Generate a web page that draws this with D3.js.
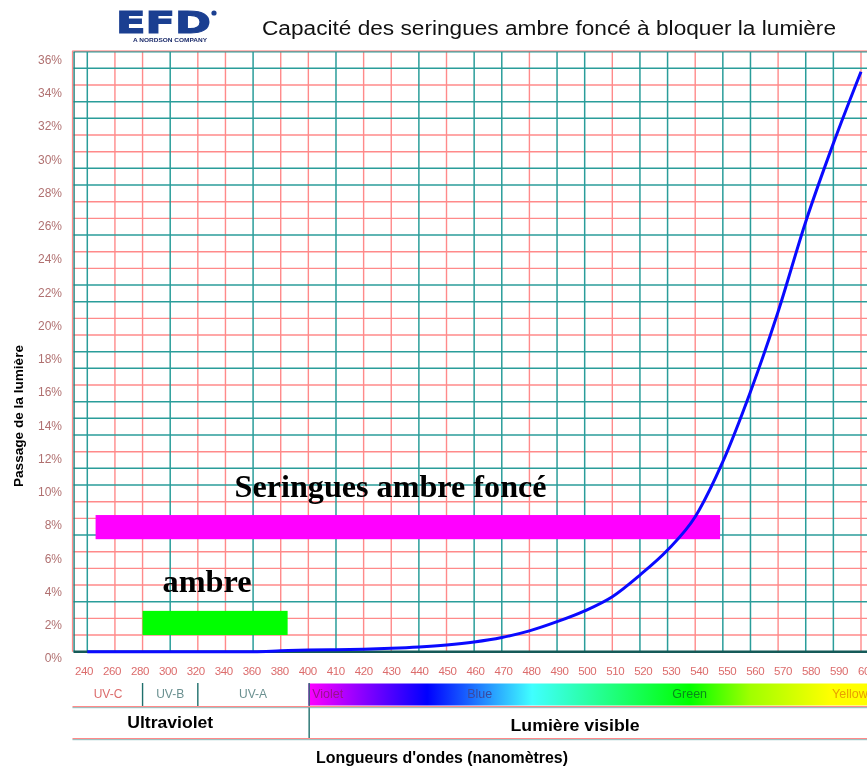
<!DOCTYPE html>
<html>
<head>
<meta charset="utf-8">
<script src="https://cdn.jsdelivr.net/npm/d3@7"></script>
<style>
  html, body { margin: 0; padding: 0; background: #ffffff; }
  svg { display: block; }
</style>
</head>
<body>
<svg id="chart" width="867" height="768"></svg>
<script>
// Wavelength categories (nm) along the bottom axis
const wavelengths = [240, 260, 280, 300, 320, 340, 360, 380,
  400, 410, 420, 430, 440, 450, 460, 470, 480, 490, 500, 510, 520,
  530, 540, 550, 560, 570, 580, 590, 600];
// Light passage (%) through dark amber syringes at each wavelength
const lightPassage = [0, 0, 0, 0, 0, 0, 0, 0.05,
  0.1, 0.12, 0.15, 0.2, 0.28, 0.4, 0.58, 0.85, 1.25, 1.8, 2.45, 3.3, 4.6,
  6.1, 8.1, 11.4, 15.6, 20.4, 25.8, 30.5, 34.8];
// Percentage tick labels
const yTicks = [0, 2, 4, 6, 8, 10, 12, 14, 16, 18, 20, 22, 24, 26, 28, 30, 32, 34, 36];
// Grid lines drawn in teal (the others are red)
const xTealGrid = [240, 300, 360, 410, 440, 460, 470, 490, 500, 520, 530, 550, 560, 580, 590];
const yTealGrid = [36, 35, 33, 32, 29, 28, 25, 22, 21, 18, 17, 15, 14, 13, 11, 10, 7, 3];
// Ultraviolet sub-bands
const uvBandNames = ["UV-C", "UV-B", "UV-A"];
const uvBandEdges = [230, 280, 320, 400];
// Visible spectrum colour stops
const spectrumNm = [400, 443, 481, 538, 560, 589, 605];
const spectrumColors = ["#ff00ff", "#0000ff", "#40ffff", "#00ff00", "#a0ff00", "#ffff00", "#ffff00"];
const spectrumNames = ["Violet", "Blue", "Green", "Yellow"];
const spectrumNameNm = [407, 462, 538, 596];
const spectrumNameColors = ["#9a108e", "#3a4aa0", "#0a8a1a", "#e8a000"];
// Highlight bars with their captions
const highlightLabels = ["Seringues ambre foncé", "ambre"];
const highlightFromNm = [246, 280];
const highlightToNm = [549, 385];
const highlightLow = [6.75, 1.0];
const highlightHigh = [8.2, 2.45];
const highlightColors = ["#ff00ff", "#00ff00"];

const svg = d3.select("#chart");

// Scales: grid positions are evenly spaced categories
const x = d3.scalePoint().domain(wavelengths).range([87.3, 861]);
// continuous wavelength -> px (two linear segments, 20 nm steps then 10 nm steps)
const xNm = d3.scaleLinear().domain([240, 400, 600]).range([x(240), x(400), x(600)]);
const y = d3.scaleLinear().domain([0, 36]).range([651.7, 51.7]);
// tick label positions
const xLabel = d3.scalePoint().domain(wavelengths).range([83.5, 866.5]);
const yLabel = d3.scaleLinear().domain([0, 36]).range([658, 59.5]);

const left = xNm(230), right = 867;
const teal = "#2a9d9a", red = "#ff8a8a";

// ---- grid ----
const grid = svg.append("g").style("mix-blend-mode", "multiply");
const yVals = d3.range(1, 37);
grid.append("g").selectAll("line").data(yVals.filter(v => !yTealGrid.includes(v))).join("line")
  .attr("x1", left).attr("x2", right).attr("y1", d => y(d)).attr("y2", d => y(d))
  .attr("stroke", red).attr("stroke-width", 1.4);
grid.append("g").selectAll("line").data(wavelengths.filter(w => !xTealGrid.includes(w))).join("line")
  .attr("x1", d => x(d)).attr("x2", d => x(d)).attr("y1", y(36)).attr("y2", y(0))
  .attr("stroke", red).attr("stroke-width", 1.4);
grid.append("g").selectAll("line").data(yTealGrid).join("line")
  .attr("x1", left).attr("x2", right).attr("y1", d => y(d)).attr("y2", d => y(d))
  .attr("stroke", teal).attr("stroke-width", 1.5);
grid.append("g").selectAll("line").data(xTealGrid).join("line")
  .attr("x1", d => x(d)).attr("x2", d => x(d)).attr("y1", y(36)).attr("y2", y(0))
  .attr("stroke", teal).attr("stroke-width", 1.5);
// frame
grid.append("line").attr("x1", left - 1).attr("x2", left - 1).attr("y1", y(36) - 1).attr("y2", y(0))
  .attr("stroke", red).attr("stroke-width", 1.2);
grid.append("line").attr("x1", left + 0.6).attr("x2", left + 0.6).attr("y1", y(36)).attr("y2", y(0))
  .attr("stroke", "#1f7f7c").attr("stroke-width", 1.4);
grid.append("line").attr("x1", left - 1).attr("x2", right).attr("y1", y(36) - 0.8).attr("y2", y(36) - 0.8)
  .attr("stroke", red).attr("stroke-width", 1);
svg.append("line").attr("x1", left).attr("x2", right).attr("y1", y(0)).attr("y2", y(0))
  .attr("stroke", "#155a58").attr("stroke-width", 2.6);

// ---- highlight bars ----
const hl = svg.append("g");
highlightLabels.forEach((lab, i) => {
  hl.append("rect")
    .attr("x", xNm(highlightFromNm[i]))
    .attr("y", y(highlightHigh[i]))
    .attr("width", xNm(highlightToNm[i]) - xNm(highlightFromNm[i]))
    .attr("height", y(highlightLow[i]) - y(highlightHigh[i]))
    .attr("fill", highlightColors[i]);
});
const capLayout = [{ dx: 139, dy: -18, len: 312 }, { dx: 20, dy: -19, len: 89 }];
highlightLabels.forEach((lab, i) => {
  hl.append("text")
    .attr("x", xNm(highlightFromNm[i]) + capLayout[i].dx)
    .attr("y", y(highlightHigh[i]) + capLayout[i].dy)
    .attr("font-family", "'Liberation Serif', 'Times New Roman', serif")
    .attr("font-weight", "bold").attr("font-size", 31)
    .attr("textLength", capLayout[i].len).attr("lengthAdjust", "spacingAndGlyphs")
    .attr("fill", "#000").text(lab);
});

// ---- curve ----
const line = d3.line()
  .x((d, i) => x(wavelengths[i]))
  .y(d => y(d))
  .curve(d3.curveMonotoneX);
svg.append("path").datum(lightPassage)
  .attr("d", line).attr("fill", "none")
  .attr("stroke", "#0a0aff").attr("stroke-width", 3).attr("stroke-linejoin", "round");

// ---- axes ----
const yAxis = svg.append("g").attr("transform", "translate(62,0)")
  .call(d3.axisLeft(yLabel).tickValues(yTicks).tickSize(0).tickPadding(0).tickFormat(d => d + "%"));
yAxis.select(".domain").remove();
yAxis.selectAll("text")
  .attr("font-family", "'Liberation Sans', Arial, sans-serif").attr("font-size", 12)
  .attr("fill", "#b07070");

const xAxis = svg.append("g").attr("transform", "translate(0,671)")
  .call(d3.axisBottom(xLabel).tickSize(0).tickPadding(0));
xAxis.select(".domain").remove();
xAxis.selectAll("text").attr("y", 0).attr("dy", "0.35em")
  .attr("font-family", "'Liberation Sans', Arial, sans-serif").attr("font-size", 11.5)
  .attr("letter-spacing", "-0.4px").attr("fill", "#dc6c6c");

// ---- bottom band: UV sub-bands and visible spectrum ----
const band = svg.append("g");
const defs = svg.append("defs");
const grad = defs.append("linearGradient").attr("id", "spectrum")
  .attr("gradientUnits", "userSpaceOnUse")
  .attr("x1", xNm(400)).attr("x2", xNm(605)).attr("y1", 0).attr("y2", 0);
grad.selectAll("stop").data(spectrumNm).join("stop")
  .attr("offset", d => (xNm(d) - xNm(400)) / (xNm(605) - xNm(400)))
  .attr("stop-color", (d, i) => spectrumColors[i]);
band.append("rect").attr("x", xNm(400)).attr("y", 683.5)
  .attr("width", right - xNm(400)).attr("height", 22).attr("fill", "url(#spectrum)");

band.selectAll("text.spec").data(spectrumNames).join("text").attr("class", "spec")
  .attr("x", (d, i) => xNm(spectrumNameNm[i])).attr("y", 694)
  .attr("dy", "0.35em").attr("text-anchor", "middle")
  .attr("font-family", "'Liberation Sans', Arial, sans-serif").attr("font-size", 12.5)
  .attr("fill", (d, i) => spectrumNameColors[i]).text(d => d);

band.selectAll("text.uv").data(uvBandNames).join("text").attr("class", "uv")
  .attr("x", (d, i) => (xNm(uvBandEdges[i]) + xNm(uvBandEdges[i + 1])) / 2)
  .attr("y", 694).attr("dy", "0.35em").attr("text-anchor", "middle")
  .attr("font-family", "'Liberation Sans', Arial, sans-serif").attr("font-size", 12)
  .attr("fill", (d, i) => i === 0 ? "#dc6c6c" : "#6a9090").text(d => d);

// separators
band.selectAll("line.uvsep").data(uvBandEdges.slice(1, 3)).join("line").attr("class", "uvsep")
  .attr("x1", d => xNm(d)).attr("x2", d => xNm(d)).attr("y1", 683).attr("y2", 707)
  .attr("stroke", "#1f6f6c").attr("stroke-width", 1.4);
band.append("line").attr("x1", xNm(400) + 0.8).attr("x2", xNm(400) + 0.8).attr("y1", 683).attr("y2", 739)
  .attr("stroke", "#1f6f6c").attr("stroke-width", 1.4);
[706.6, 738.6].forEach(yy => {
  band.append("line").attr("x1", left - 1).attr("x2", right).attr("y1", yy).attr("y2", yy)
    .attr("stroke", red).attr("stroke-width", 1.2);
  band.append("line").attr("x1", left - 1).attr("x2", right).attr("y1", yy + 1.1).attr("y2", yy + 1.1)
    .attr("stroke", "#6aabab").attr("stroke-width", 0.8);
});

const boldFont = "'Liberation Sans', Arial, Helvetica, sans-serif";
band.append("text").attr("x", xNm(300)).attr("y", 728).attr("text-anchor", "middle")
  .attr("font-family", boldFont).attr("font-weight", "bold").attr("font-size", 16)
  .attr("textLength", 86).attr("lengthAdjust", "spacingAndGlyphs").text("Ultraviolet");
band.append("text").attr("x", 575).attr("y", 730.5).attr("text-anchor", "middle")
  .attr("font-family", boldFont).attr("font-weight", "bold").attr("font-size", 16)
  .attr("textLength", 129).attr("lengthAdjust", "spacingAndGlyphs").text("Lumière visible");
band.append("text").attr("x", 442).attr("y", 763).attr("text-anchor", "middle")
  .attr("font-family", boldFont).attr("font-weight", "bold").attr("font-size", 16)
  .attr("textLength", 252).attr("lengthAdjust", "spacingAndGlyphs").text("Longueurs d'ondes (nanomètres)");

// y axis title
svg.append("text").attr("transform", "translate(23,416) rotate(-90)")
  .attr("text-anchor", "middle")
  .attr("font-family", boldFont).attr("font-weight", "bold").attr("font-size", 13.5)
  .attr("textLength", 142).attr("lengthAdjust", "spacingAndGlyphs")
  .text("Passage de la lumière");

// ---- header: logo and title ----
const logo = svg.append("g");
logo.append("text").attr("x", 116).attr("y", 33)
  .attr("font-family", "'DejaVu Sans', Verdana, sans-serif").attr("font-weight", "bold")
  .attr("font-size", 31).attr("textLength", 95).attr("lengthAdjust", "spacingAndGlyphs")
  .attr("fill", "#1b3f91").attr("stroke", "#1b3f91").attr("stroke-width", 1.2)
  .text("EFD");
logo.append("circle").attr("cx", 214).attr("cy", 13).attr("r", 2.6).attr("fill", "#1b3f91");
logo.append("text").attr("x", 133).attr("y", 42)
  .attr("font-family", boldFont).attr("font-weight", "bold").attr("font-size", 5.5)
  .attr("textLength", 74).attr("lengthAdjust", "spacingAndGlyphs")
  .attr("fill", "#1a2a6a").text("A NORDSON COMPANY");

svg.append("text").attr("x", 262).attr("y", 35)
  .attr("font-family", boldFont).attr("font-size", 20)
  .attr("textLength", 574).attr("lengthAdjust", "spacingAndGlyphs")
  .attr("fill", "#111").text("Capacité des seringues ambre foncé à bloquer la lumière");
</script>
</body>
</html>
